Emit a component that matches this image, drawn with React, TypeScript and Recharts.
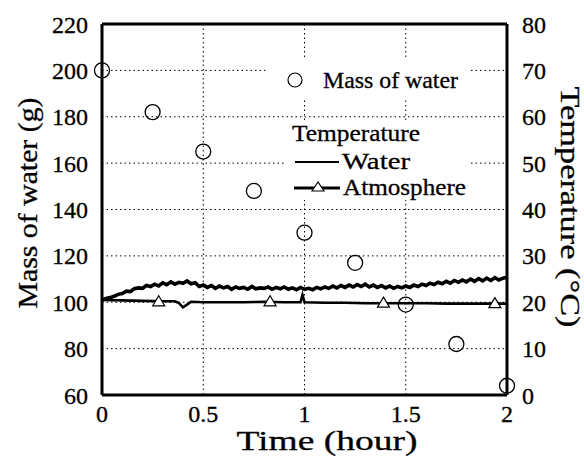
import { ComposedChart, Line, Scatter, XAxis, YAxis, CartesianGrid, ReferenceLine } from 'recharts';

const timeTicks = [0, 0.5, 1, 1.5, 2];
const massTicks = [60, 80, 100, 120, 140, 160, 180, 200, 220];
const tempTicks = [0, 10, 20, 30, 40, 50, 60, 70, 80];

const massTime = [0, 0.25, 0.5, 0.75, 1, 1.25, 1.5, 1.75, 2];
const massValues = [200, 182, 165, 148, 130, 117, 99, 82, 64];

// water temperature logged every 0.02 h
const waterStep = 0.02;
const waterTemp = [
  20.5, 20.8, 21.0, 21.3, 21.7, 21.9, 22.4, 22.3, 22.9, 23.1,
  23.0, 23.6, 23.4, 23.9, 23.5, 24.2, 23.8, 24.4, 23.9, 24.3,
  24.1, 24.6, 24.0, 24.2, 23.4, 23.7, 23.2, 23.6, 23.0, 23.5,
  23.1, 23.4, 22.8, 23.3, 23.0, 23.2, 22.8, 23.4, 22.9, 23.1,
  23.0, 23.3, 22.8, 23.2, 22.9, 23.3, 22.8, 23.1, 22.7, 23.2,
  22.8, 23.0, 22.7, 23.2, 22.9, 23.3, 23.0, 23.5, 23.1, 23.6,
  23.2, 23.7, 23.3, 23.8, 23.4, 23.9, 23.3, 23.7, 23.2, 23.6,
  23.1, 23.5, 23.0, 23.4, 23.1, 23.5, 23.2, 23.7, 23.4, 23.9,
  23.6, 24.1, 23.8, 24.3, 24.0, 24.5, 24.1, 24.7, 24.3, 24.8,
  24.4, 25.0, 24.5, 25.1, 24.6, 25.2, 24.7, 25.3, 24.8, 25.2,
  25.4,
];

const atmTime = [0, 0.1, 0.2, 0.3, 0.36, 0.38, 0.4, 0.42, 0.44, 0.5, 0.6, 0.7, 0.8, 0.9, 0.98, 0.99, 1.0, 1.1, 1.2, 1.3, 1.4, 1.5, 1.6, 1.7, 1.8, 1.9, 2.0];
const atmTemp = [20.5, 20.4, 20.3, 20.2, 20.2, 19.8, 18.9, 19.5, 20.1, 20.0, 20.0, 20.0, 20.1, 20.0, 20.0, 21.6, 20.0, 19.9, 19.9, 19.8, 19.8, 19.8, 19.8, 19.7, 19.7, 19.7, 19.7];

const atmMarkTime = [0.28, 0.83, 1.39, 1.94];
const atmMarkTemp = [20.1, 20.1, 19.8, 19.7];

const massData = massTime.map((t, i) => ({ t, v: massValues[i] }));
const waterData = waterTemp.map((v, i) => ({ t: i * waterStep, v }));
const atmData = atmTime.map((t, i) => ({ t, v: atmTemp[i] }));
const atmMarks = atmMarkTime.map((t, i) => ({ t, v: atmMarkTemp[i] }));

const font = 'Liberation Serif';

const OpenCircle = (p: any) => (
  <circle cx={p.cx} cy={p.cy} r={7.5} fill="none" stroke="#000" strokeWidth={1.3} />
);

const Triangle = (p: any) => (
  <path d={`M${p.cx},${p.cy - 6} L${p.cx + 6},${p.cy + 4} L${p.cx - 6},${p.cy + 4} Z`} fill="#fff" stroke="#000" strokeWidth={1.2} />
);

export default function App() {
  const tick = { fontSize: 24, fill: '#000', stroke: '#000', strokeWidth: 0.3, style: { fontFamily: font } };
  const txt = { fill: '#000', stroke: '#000', strokeWidth: 0.3, style: { fontFamily: font } };
  return (
    <div style={{ position: 'absolute', left: 0, top: 0, width: 584, height: 459, background: '#fff', fontFamily: font }}>
      <ComposedChart width={584} height={459} margin={{ top: 24, right: 0, bottom: 0, left: 0 }}>
        <CartesianGrid yAxisId="left" stroke="#000" strokeDasharray="1.5 3" strokeWidth={1} />
        <XAxis
          type="number"
          dataKey="t"
          domain={[0, 2]}
          ticks={timeTicks}
          tickLine={false}
          axisLine={{ stroke: '#000', strokeWidth: 3 }}
          tick={tick}
          tickMargin={4}
          height={64}
        />
        <YAxis
          yAxisId="left"
          domain={[60, 220]}
          ticks={massTicks}
          tickLine={false}
          axisLine={{ stroke: '#000', strokeWidth: 3 }}
          tick={tick}
          tickMargin={8}
          width={102}
        />
        <YAxis
          yAxisId="right"
          orientation="right"
          domain={[0, 80]}
          ticks={tempTicks}
          tickLine={false}
          axisLine={{ stroke: '#000', strokeWidth: 3 }}
          tick={tick}
          tickMargin={9}
          width={77}
        />
        <ReferenceLine yAxisId="left" y={220} stroke="#000" strokeWidth={3} />
        <Line yAxisId="right" data={waterData} dataKey="v" stroke="#000" strokeWidth={3.6} dot={false} isAnimationActive={false} />
        <Line yAxisId="right" data={atmData} dataKey="v" stroke="#000" strokeWidth={2.6} dot={false} isAnimationActive={false} />
        <Scatter yAxisId="right" data={atmMarks} dataKey="v" shape={Triangle} isAnimationActive={false} />
        <Scatter yAxisId="left" data={massData} dataKey="v" shape={OpenCircle} isAnimationActive={false} />
      </ComposedChart>
      <svg width={584} height={459} style={{ position: 'absolute', left: 0, top: 0, pointerEvents: 'none' }}>
        <rect x={267} y={60} width={203} height={40} fill="#fff" />
        <rect x={285} y={122} width={185} height={78} fill="#fff" />
        <circle cx={295} cy={80} r={7} fill="none" stroke="#000" strokeWidth={1.2} />
        <text x={323} y={88} fontSize={24} textLength={135} lengthAdjust="spacingAndGlyphs" {...txt}>Mass of water</text>
        <text x={292} y={141} fontSize={24} textLength={128} lengthAdjust="spacingAndGlyphs" {...txt}>Temperature</text>
        <line x1={295} x2={339} y1={162} y2={162} stroke="#000" strokeWidth={2} />
        <text x={342} y={169} fontSize={24} textLength={68} lengthAdjust="spacingAndGlyphs" {...txt}>Water</text>
        <line x1={294} x2={340} y1={188} y2={188} stroke="#000" strokeWidth={3} />
        <path d="M318,182 L324,191 L312,191 Z" fill="#fff" stroke="#000" strokeWidth={1.2} />
        <text x={343} y={195} fontSize={24} textLength={123} lengthAdjust="spacingAndGlyphs" {...txt}>Atmosphere</text>
        <text x={327} y={450} fontSize={28} textAnchor="middle" textLength={181} lengthAdjust="spacingAndGlyphs" {...txt}>Time (hour)</text>
        <text transform="translate(37,203) rotate(-90)" fontSize={28} textAnchor="middle" textLength={211} lengthAdjust="spacingAndGlyphs" {...txt}>Mass of water (g)</text>
        <text transform="translate(561,207) rotate(90)" fontSize={27} textAnchor="middle" textLength={241} lengthAdjust="spacingAndGlyphs" {...txt}>Temperature (°C)</text>
      </svg>
    </div>
  );
}
